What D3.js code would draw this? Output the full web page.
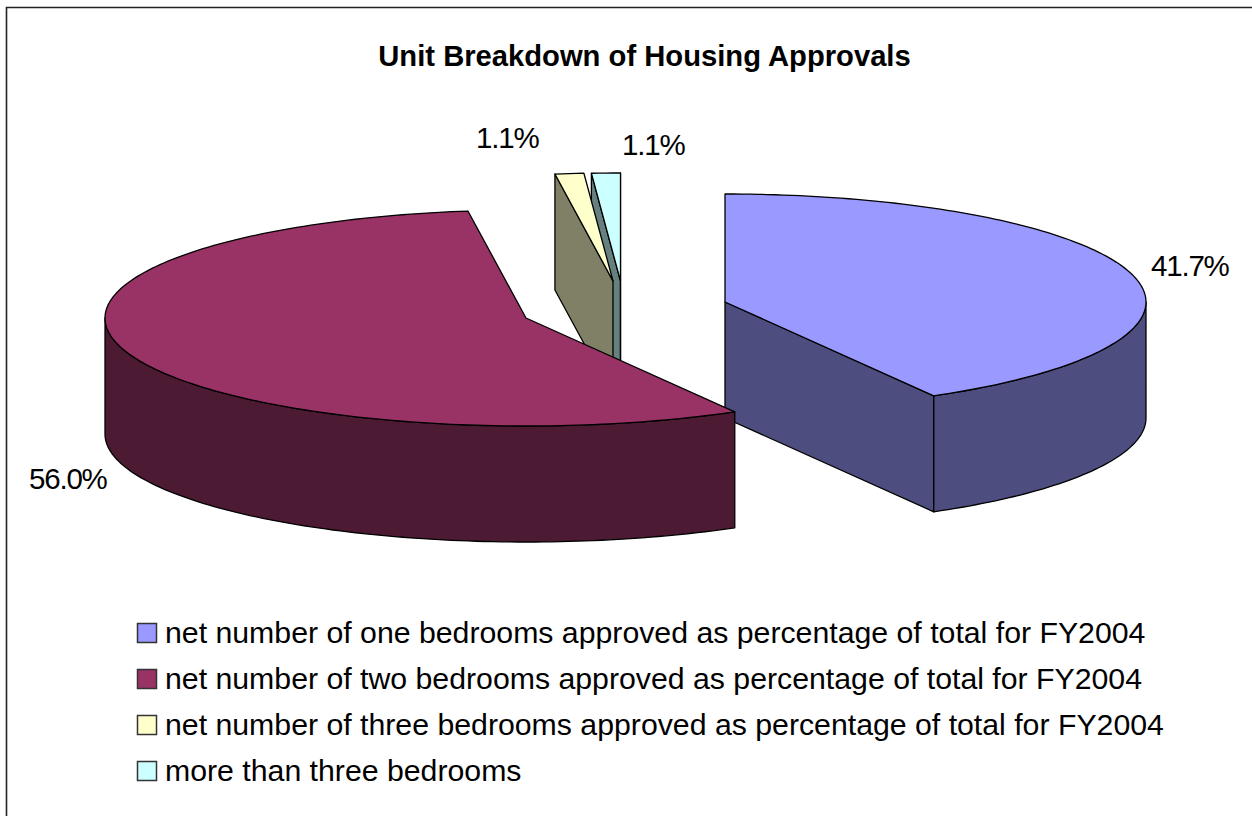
<!DOCTYPE html>
<html>
<head>
<meta charset="utf-8">
<script src="https://cdn.jsdelivr.net/npm/d3@7"></script>
<style>
html,body{margin:0;padding:0;background:#fff;overflow:hidden}
svg{display:block}
text{font-family:"Liberation Sans",Arial,sans-serif;fill:#000}
</style>
</head>
<body>
<div id="chart"></div>
<script>
const chartTitle = "Unit Breakdown of Housing Approvals";
const categories = [
  "net number of one bedrooms approved as percentage of total for FY2004",
  "net number of two bedrooms approved as percentage of total for FY2004",
  "net number of three bedrooms approved as percentage of total for FY2004",
  "more than three bedrooms"
];
const values = [41.7, 56.0, 1.1, 1.1];
const valueLabels = ["41.7%", "56.0%", "1.1%", "1.1%"];

// Styling and layout, separate from the data
const topColors = ["#9999FF", "#993366", "#FFFFCC", "#CCFFFF"];
const sideColors = ["#4D4D80", "#4D1A33", "#808066", "#668080"];
const apexes = [[725, 302], [526, 318], [613, 281], [620.5, 281]];
const labelPos = [[1151, 276], [29, 489], [476, 148], [622, 155]];
const paintOrder = [3, 2, 0, 1];
const W = 1252, H = 816, RX = 421, RY = 108, DEPTH = 116;

const svg = d3.select("#chart").append("svg").attr("width", W).attr("height", H);

// Frame
svg.append("path").attr("d", `M6.5,${H}V7.5H${W}`).attr("fill", "none")
  .attr("stroke", "#222").attr("stroke-width", 1.6);

// Title
svg.append("text").attr("x", 644.5).attr("y", 65.5).attr("text-anchor", "middle")
  .attr("font-weight", "bold").attr("font-size", 29.2).text(chartTitle);

// Pie geometry from d3.pie, projected through scales onto a tilted ellipse
const arcs = d3.pie().sort(null).startAngle(0).endAngle(2 * Math.PI)(values);
const sx = d3.scaleLinear().domain([-1, 1]).range([-RX, RX]);
const sy = d3.scaleLinear().domain([-1, 1]).range([RY, -RY]);
const line = d3.line();
const proj = (c, a, dz = 0) => [c[0] + sx(Math.sin(a)), c[1] + sy(Math.cos(a)) + dz];
const sample = (c, a0, a1, dz = 0) => {
  const n = Math.max(2, Math.ceil(Math.abs(a1 - a0) / 0.02));
  return d3.range(n + 1).map(i => proj(c, a0 + (a1 - a0) * i / n, dz));
};
const down = (p) => [p[0], p[1] + DEPTH];

const layer = svg.append("g").attr("stroke", "#000").attr("stroke-width", 1.3)
  .attr("stroke-linejoin", "round");

paintOrder.forEach(i => {
  const arc = arcs[i], c = apexes[i], a0 = arc.startAngle, a1 = arc.endAngle;
  const g = layer.append("g");
  // cut face at the start of the slice (seen when it faces left)
  if (Math.sin(a0) < 0) {
    const p = proj(c, a0);
    g.append("path").attr("fill", sideColors[i])
      .attr("d", line([c, p, down(p), down(c)]) + "Z");
  }
  // cut face at the end of the slice (seen when it faces right)
  if (Math.sin(a1) > 0) {
    const p = proj(c, a1);
    g.append("path").attr("fill", sideColors[i])
      .attr("d", line([c, p, down(p), down(c)]) + "Z");
  }
  // outer wall, the part of the rim that faces the viewer
  const w0 = Math.max(a0, Math.PI / 2), w1 = Math.min(a1, 3 * Math.PI / 2);
  if (w1 > w0) {
    const topEdge = sample(c, w0, w1);
    const botEdge = sample(c, w1, w0, DEPTH);
    g.append("path").attr("fill", sideColors[i])
      .attr("d", line(topEdge.concat(botEdge)) + "Z");
  }
  // top surface
  g.append("path").attr("fill", topColors[i])
    .attr("d", line([c].concat(sample(c, a0, a1))) + "Z");
});

// Value labels
svg.append("g").selectAll("text").data(valueLabels).join("text")
  .attr("x", (d, i) => labelPos[i][0]).attr("y", (d, i) => labelPos[i][1])
  .attr("font-size", 29.5).attr("letter-spacing", "-1.2px").text(d => d);

// Legend
const rowY = d3.scalePoint().domain(d3.range(categories.length)).range([623.5, 761.5]);
const legend = svg.append("g").selectAll("g").data(categories).join("g")
  .attr("transform", (d, i) => `translate(137.5,${rowY(i)})`);
legend.append("rect").attr("width", 19).attr("height", 19)
  .attr("fill", (d, i) => topColors[i]).attr("stroke", "#333").attr("stroke-width", 1.5);
legend.append("text").attr("x", 27.5).attr("y", 19).attr("font-size", 30.25).text(d => d);
</script>
</body>
</html>
